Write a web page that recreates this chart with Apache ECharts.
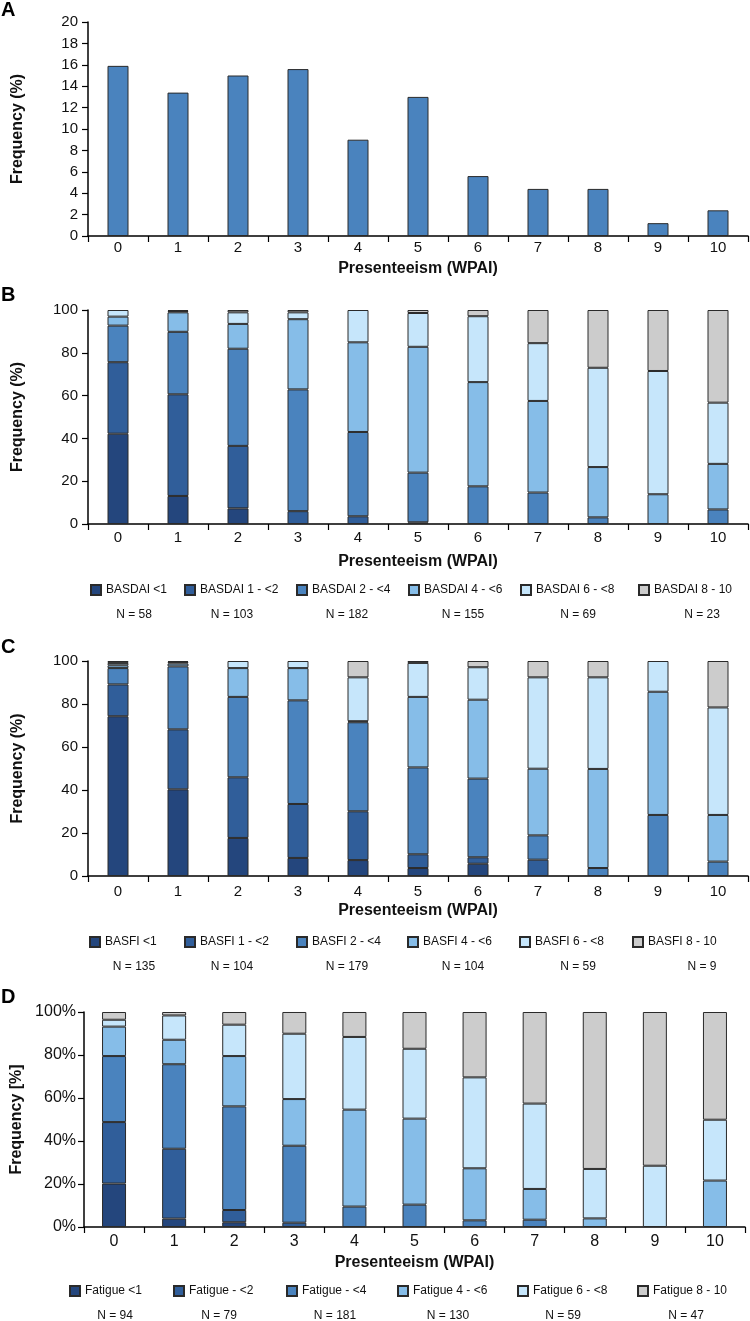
<!DOCTYPE html>
<html>
<head>
<meta charset="utf-8">
<script src="https://cdn.jsdelivr.net/npm/echarts@6/dist/echarts.min.js"></script>
<style>html,body{margin:0;padding:0;background:#fff;}#c{width:750px;height:1321px;}</style>
</head>
<body>
<div id="c"></div>
<script>
// ---------- data ----------
const categories = ['0','1','2','3','4','5','6','7','8','9','10'];
const freqA = [15.9, 13.4, 15.0, 15.6, 9.0, 13.0, 5.6, 4.4, 4.4, 1.2, 2.4];

const namesB = ['BASDAI <1','BASDAI 1 - <2','BASDAI 2 - <4','BASDAI 4 - <6','BASDAI 6 - <8','BASDAI 8 - 10'];
const basdai1 = [42.2, 13.1, 7.3, 0, 0, 0, 0, 0, 0, 0, 0];
const basdai2 = [33.4, 47.5, 29.2, 6.0, 3.6, 0.8, 0, 0, 0, 0, 0];
const basdai3 = [17.1, 29.2, 45.4, 56.9, 39.4, 23.2, 17.6, 14.7, 3.1, 0, 6.8];
const basdai4 = [4.2, 9.1, 11.6, 32.8, 41.9, 58.8, 48.7, 42.8, 23.5, 13.9, 21.3];
const basdai5 = [3.1, 0.6, 5.4, 3.2, 15.1, 15.8, 30.8, 27.0, 46.4, 57.6, 28.6];
const basdai6 = [0, 0.5, 1.1, 1.1, 0, 1.4, 2.9, 15.5, 27.0, 28.5, 43.3];
const nB = ['N = 58','N = 103','N = 182','N = 155','N = 69','N = 23'];

const namesC = ['BASFI <1','BASFI 1 - <2','BASFI 2 - <4','BASFI 4 - <6','BASFI 6 - <8','BASFI 8 - 10'];
const basfi1 = [74.3, 40.3, 17.7, 8.4, 7.4, 3.7, 5.7, 0, 0, 0, 0];
const basfi2 = [14.8, 27.9, 28.2, 25.1, 22.7, 6.4, 3.0, 7.6, 0, 0, 0];
const basfi3 = [7.6, 29.3, 37.4, 48.2, 41.4, 40.4, 36.6, 11.3, 3.7, 28.4, 6.7];
const basfi4 = [1.3, 1.3, 13.4, 15.0, 0.5, 32.8, 36.7, 31.0, 46.1, 57.3, 21.7];
const basfi5 = [1.1, 0.7, 3.3, 3.3, 20.4, 15.8, 15.1, 42.5, 42.6, 14.3, 50.0];
const basfi6 = [0.9, 0.5, 0, 0, 7.6, 0.9, 2.9, 7.6, 7.6, 0, 21.6];
const nC = ['N = 135','N = 104','N = 179','N = 104','N = 59','N = 9'];

const namesD = ['Fatigue <1','Fatigue - <2','Fatigue - <4','Fatigue 4 - <6','Fatigue 6 - <8','Fatigue 8 - 10'];
const fatigue1 = [20.2, 3.9, 2.2, 0, 0, 0, 0, 0, 0, 0, 0];
const fatigue2 = [28.6, 32.5, 5.7, 2.0, 0, 0, 0, 0, 0, 0, 0];
const fatigue3 = [30.7, 39.3, 48.2, 35.8, 9.5, 10.4, 3.1, 3.4, 0, 0, 0];
const fatigue4 = [13.7, 11.4, 23.4, 21.7, 45.1, 40.0, 24.2, 14.3, 4.0, 0, 21.6];
const fatigue5 = [3.2, 11.3, 14.6, 30.4, 33.8, 32.5, 42.3, 39.7, 23.0, 28.5, 28.3];
const fatigue6 = [3.6, 1.6, 5.9, 10.1, 11.6, 17.1, 30.4, 42.6, 73.0, 71.5, 50.1];
const nD = ['N = 94','N = 79','N = 181','N = 130','N = 59','N = 47'];

const yTicksA = {min: 0, max: 20, interval: 2};
const yTicksB = {min: 0, max: 100, interval: 20};

// ---------- styling ----------
const FONT = '"Liberation Sans", Arial, sans-serif';
const palette = ['#24467d', '#305e9a', '#4a83be', '#86bde8', '#c6e6fb', '#cccccc'];
const BORDER = '#2a2a2a';

const grids = [
  {left: 88, top: 22, width: 660, height: 214},
  {left: 88, top: 310, width: 660, height: 214},
  {left: 88, top: 661, width: 660, height: 215},
  {left: 84, top: 1012, width: 661, height: 215}
];

function xAx(i, fs, margin, gap) {
  return {
    type: 'category', gridIndex: i, data: categories,
    name: 'Presenteeism (WPAI)', nameLocation: 'middle', nameGap: gap,
    nameTextStyle: {fontFamily: FONT, fontWeight: 'bold', fontSize: 16, color: '#111'},
    axisLine: {lineStyle: {color: '#000', width: 1.5}},
    axisTick: {show: true, length: 6, lineStyle: {color: '#000', width: 1.2}},
    axisLabel: {fontFamily: FONT, fontSize: fs, color: '#111', margin: margin, interval: 0},
    splitLine: {show: false}
  };
}
function yAx(i, ticks, fs, name, gap, margin, fmt) {
  return {
    type: 'value', gridIndex: i, min: ticks.min, max: ticks.max, interval: ticks.interval,
    name: name, nameLocation: 'middle', nameGap: gap, nameRotate: 90,
    nameTextStyle: {fontFamily: FONT, fontWeight: 'bold', fontSize: 16, color: '#111'},
    axisLine: {show: true, lineStyle: {color: '#000', width: 1.5}},
    axisTick: {show: true, length: 6, lineStyle: {color: '#000', width: 1.2}},
    axisLabel: {fontFamily: FONT, fontSize: fs, color: '#111', margin: margin, formatter: fmt || '{value}'},
    splitLine: {show: false}
  };
}

const series = [{
  name: 'Presenteeism', type: 'bar', xAxisIndex: 0, yAxisIndex: 0, data: freqA, barWidth: 21,
  itemStyle: {color: '#4a83be', borderColor: BORDER, borderWidth: 1}
}];

function addStack(idx, names, arrays, bw) {
  arrays.forEach((arr, k) => {
    series.push({
      name: names[k], type: 'bar', stack: 'S' + idx, xAxisIndex: idx, yAxisIndex: idx, barWidth: bw,
      data: arr.map(v => v === 0 ? '-' : v),
      itemStyle: {color: palette[k], borderColor: BORDER, borderWidth: 1}
    });
  });
}
addStack(1, namesB, [basdai1, basdai2, basdai3, basdai4, basdai5, basdai6], 21);
addStack(2, namesC, [basfi1, basfi2, basfi3, basfi4, basfi5, basfi6], 21);
addStack(3, namesD, [fatigue1, fatigue2, fatigue3, fatigue4, fatigue5, fatigue6], 24);

// legend layout
const legendRows = [
  {names: namesB, xs: [90, 184, 296, 408, 520, 638], top: 584, nTexts: nB, nXs: [134, 232, 347, 463, 578, 702], nY: 615},
  {names: namesC, xs: [89, 184, 296, 407, 519, 632], top: 936, nTexts: nC, nXs: [134, 232, 347, 463, 578, 702], nY: 967},
  {names: namesD, xs: [69, 173, 286, 397, 517, 637], top: 1285, nTexts: nD, nXs: [115, 219, 335, 448, 563, 686], nY: 1316}
];
const legends = [];
const graphics = [];
legendRows.forEach(r => {
  r.names.forEach((nm, k) => {
    legends.push({
      data: [nm], left: r.xs[k], top: r.top, orient: 'horizontal', padding: 0,
      itemWidth: 10, itemHeight: 10, icon: 'rect', selectedMode: false,
      textStyle: {fontFamily: FONT, fontSize: 12, color: '#111'}
    });
  });
  r.nTexts.forEach((t, k) => {
    graphics.push({type: 'text', x: r.nXs[k], y: r.nY,
      style: {text: t, fontFamily: FONT, fontSize: 12, fill: '#111', textAlign: 'center', textVerticalAlign: 'middle'}});
  });
});
[['A', 10], ['B', 295], ['C', 647], ['D', 997]].forEach(p => {
  graphics.push({type: 'text', x: 1, y: p[1],
    style: {text: p[0], fontFamily: FONT, fontSize: 20, fontWeight: 'bold', fill: '#000', textVerticalAlign: 'middle'}});
});

const option = {
  animation: false,
  backgroundColor: '#fff',
  grid: grids,
  xAxis: [xAx(0, 15, 4, 25), xAx(1, 15, 6, 30), xAx(2, 15, 8, 27), xAx(3, 16, 7, 28)],
  yAxis: [
    yAx(0, yTicksA, 15, 'Frequency (%)', 62, 10),
    yAx(1, yTicksB, 15, 'Frequency (%)', 62, 10),
    yAx(2, yTicksB, 15, 'Frequency (%)', 62, 10),
    yAx(3, yTicksB, 16, 'Frequency [%]', 58, 8, '{value}%')
  ],
  legend: legends,
  series: series,
  graphic: graphics
};
echarts.init(document.getElementById('c'), null, {renderer: 'canvas'}).setOption(option);
</script>
</body>
</html>
